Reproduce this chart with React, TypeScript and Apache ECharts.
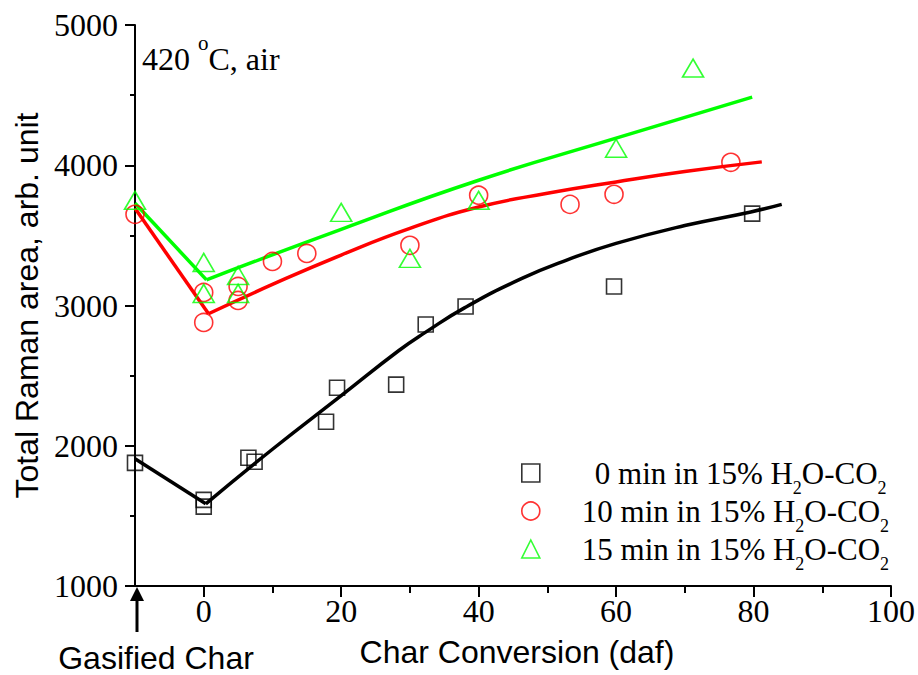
import React, { useEffect, useRef } from "react";
import * as echarts from "echarts";

// ---- data ----
const xMajorTicks = [0, 20, 40, 60, 80, 100];
const xMinorTicks = [10, 30, 50, 70, 90];

const s0Name = "0 min in 15% H2O-CO2";
const s10Name = "10 min in 15% H2O-CO2";
const s15Name = "15 min in 15% H2O-CO2";

const s0Points = [
  [-10, 1878], [0, 1614], [0, 1566], [6.5, 1914], [7.4, 1886], [17.8, 2171],
  [19.4, 2414], [28, 2436], [32.3, 2864], [38.1, 2993], [59.7, 3136], [79.8, 3655],
];
const s10Points = [
  [-10, 3650], [0, 3093], [0, 2879], [5, 3136], [5, 3036], [10, 3314], [15, 3371],
  [30, 3429], [40, 3786], [53.3, 3721], [59.7, 3793], [76.7, 4021],
];
const s15Points = [
  [-10, 3750], [0, 3307], [0, 3086], [5, 3214], [5, 3086], [20, 3664], [30, 3336],
  [40, 3750], [60, 4121], [71.2, 4693],
];

const fit0Left = [[-10, 1907], [0.3, 1586]];
const fit0Curve = [
  [0.3, 1586], [10, 1975], [20, 2357], [28.4, 2679], [32.3, 2810], [38, 2985],
  [46.3, 3193], [53, 3327], [60, 3443], [70, 3570], [79.6, 3667], [84.1, 3721],
];
const fit10Left = [[-10, 3693], [0.7, 2941]];
const fit10Curve = [
  [0.7, 2941], [10, 3150], [20, 3360], [30, 3550], [40, 3702], [50, 3800],
  [60, 3881], [70, 3955], [81.2, 4024],
];
const fit15Left = [[-10, 3729], [0.4, 3183]];
const fit15Curve = [[0.4, 3183], [20, 3543], [40, 3893], [60, 4193], [79.8, 4486]];

const SERIF = "'Liberation Serif', 'Times New Roman', serif";
const SANS = "'Liberation Sans', Arial, sans-serif";

const legendLabels: Record<string, string> = {
  [s0Name]: "{pad0| }0 min in 15% H{sub|2}O-CO{sub|2}",
  [s10Name]: "{pad| }10 min in 15% H{sub|2}O-CO{sub|2}",
  [s15Name]: "{pad| }15 min in 15% H{sub|2}O-CO{sub|2}",
};

export default function App() {
  const ref = useRef<HTMLDivElement>(null);
  useEffect(() => {
    if (!ref.current) return;
    const chart = echarts.init(ref.current, undefined, { renderer: "svg" });
    const hollow = (c: string) => ({ color: "rgba(0,0,0,0)", borderColor: c, borderWidth: 1.6 });
    const fitLine = (name: string, data: number[][], color: string, smooth: boolean) => ({
      name,
      type: "line",
      data,
      smooth,
      showSymbol: false,
      symbol: "none",
      clip: false,
      lineStyle: { color, width: 3.5 },
      z: 3,
    });
    chart.setOption({
      animation: false,
      backgroundColor: "#fff",
      grid: { left: 135, right: 26, top: 25, bottom: 89, containLabel: false },
      title: {
        text: "420 {sup|o}C, air",
        left: 142,
        top: 42,
        padding: 0,
        textStyle: {
          fontFamily: SERIF,
          fontSize: 32,
          fontWeight: "normal",
          color: "#000",
          lineHeight: 34,
          rich: {
            sup: { fontFamily: SERIF, fontSize: 21, color: "#000", padding: [-16, 0, 16, 0] },
          },
        },
      },
      legend: {
        orient: "vertical",
        left: 516,
        top: 452,
        itemWidth: 18,
        itemHeight: 18,
        itemGap: -2,
        selectedMode: false,
        data: [
          { name: s0Name, icon: "rect", itemStyle: hollow("#000") },
          { name: s10Name, icon: "circle", itemStyle: hollow("#ff0000") },
          { name: s15Name, icon: "triangle", itemStyle: hollow("#00ff00") },
        ],
        formatter: (name: string) => legendLabels[name] || name,
        textStyle: {
          fontFamily: SERIF,
          fontSize: 31,
          color: "#000",
          lineHeight: 32,
          rich: {
            pad0: { width: 50, fontSize: 31, fontFamily: SERIF },
            pad: { width: 37, fontSize: 31, fontFamily: SERIF },
            sub: { fontFamily: SERIF, fontSize: 18, color: "#000", padding: [15, 0, -15, 0] },
          },
        },
      },
      xAxis: [
        {
          type: "value",
          min: -10,
          max: 100,
          position: "bottom",
          name: "Char Conversion (daf)",
          nameLocation: "middle",
          nameGap: 50,
          nameTextStyle: { fontFamily: SANS, fontSize: 32, color: "#000", padding: [0, 0, 0, 8] },
          axisLine: { show: true, onZero: false, lineStyle: { color: "#000", width: 2 } },
          axisTick: { show: true, customValues: xMajorTicks, length: 11, lineStyle: { color: "#000", width: 2 } },
          axisLabel: { show: true, customValues: xMajorTicks, margin: 9, fontFamily: SERIF, fontSize: 32, color: "#000", formatter: (v: number) => String(v) },
          splitLine: { show: false },
        },
        {
          type: "value",
          min: -10,
          max: 100,
          position: "bottom",
          axisLine: { show: false },
          axisTick: { show: true, customValues: xMinorTicks, length: 7, lineStyle: { color: "#000", width: 2 } },
          axisLabel: { show: false },
          splitLine: { show: false },
        },
      ],
      yAxis: {
        type: "value",
        min: 1000,
        max: 5000,
        interval: 1000,
        name: "Total Raman area, arb. unit",
        nameLocation: "middle",
        nameGap: 92,
        nameTextStyle: { fontFamily: SANS, fontSize: 32, color: "#000" },
        axisLine: { show: true, onZero: false, lineStyle: { color: "#000", width: 2 } },
        axisTick: { show: true, length: 10, lineStyle: { color: "#000", width: 2 } },
        minorTick: { show: true, splitNumber: 2, length: 5, lineStyle: { color: "#000", width: 2 } },
        axisLabel: { margin: 17, fontFamily: SERIF, fontSize: 32, color: "#000", formatter: (v: number) => String(v) },
        splitLine: { show: false },
        minorSplitLine: { show: false },
      },
      graphic: [
        {
          type: "line",
          shape: { x1: 137, y1: 632, x2: 137, y2: 597 },
          style: { stroke: "#000", lineWidth: 3 },
        },
        {
          type: "polygon",
          shape: { points: [[137, 587], [130, 601], [144, 601]] },
          style: { fill: "#000" },
        },
        {
          type: "text",
          x: 156,
          y: 658,
          style: {
            text: "Gasified Char",
            fontFamily: SANS,
            fontSize: 32,
            fill: "#000",
            textAlign: "center",
            textVerticalAlign: "middle",
          },
        },
      ],
      series: [
        fitLine("fit0L", fit0Left, "#000", false),
        fitLine("fit0C", fit0Curve, "#000", true),
        fitLine("fit10L", fit10Left, "#ff0000", false),
        fitLine("fit10C", fit10Curve, "#ff0000", true),
        fitLine("fit15L", fit15Left, "#00ff00", false),
        fitLine("fit15C", fit15Curve, "#00ff00", true),
        {
          name: s0Name,
          type: "scatter",
          data: s0Points,
          symbol: "rect",
          symbolSize: 15,
          itemStyle: hollow("#000"),
          z: 4,
        },
        {
          name: s10Name,
          type: "scatter",
          data: s10Points,
          symbol: "circle",
          symbolSize: 18,
          itemStyle: hollow("#ff0000"),
          z: 4,
        },
        {
          name: s15Name,
          type: "scatter",
          data: s15Points,
          symbol: "triangle",
          symbolSize: [21, 18],
          itemStyle: hollow("#00ff00"),
          z: 4,
        },
      ],
    });
    return () => chart.dispose();
  }, []);
  return <div ref={ref} style={{ width: 918, height: 675, position: "absolute", left: 0, top: 0 }} />;
}
